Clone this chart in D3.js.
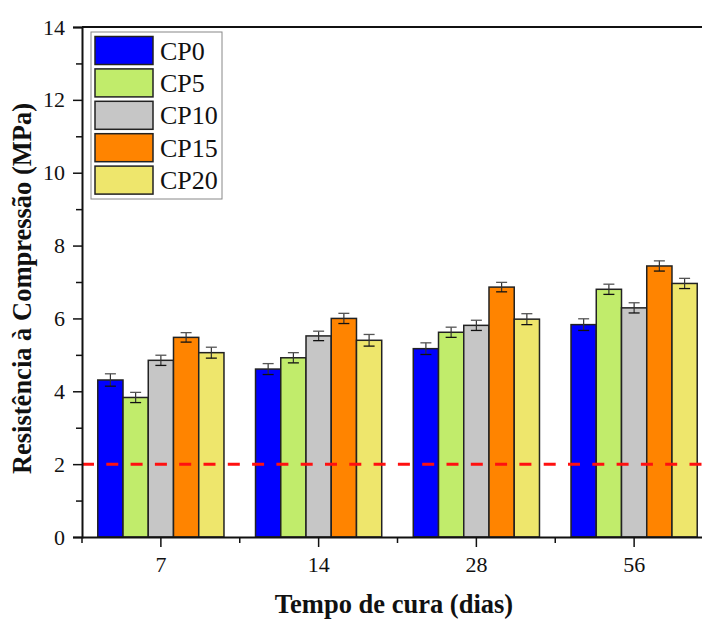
<!DOCTYPE html>
<html>
<head>
<meta charset="utf-8">
<script src="https://cdn.jsdelivr.net/npm/d3@7"></script>
<style>
  html, body { margin: 0; padding: 0; background: #fff; }
  svg { display: block; }
  text { font-family: "Liberation Serif", "Times New Roman", serif; fill: #111; }
</style>
</head>
<body>
<svg id="chart" width="702" height="619"></svg>
<script>
// Curing time (days) on the x axis
const curingDays = ["7", "14", "28", "56"];
// Mix series
const mixes = ["CP0", "CP5", "CP10", "CP15", "CP20"];
const mixColors = ["#0000ff", "#c1ec6b", "#c6c6c6", "#ff8400", "#eee66c"];
// Compressive strength (MPa) per mix, one value per curing time
const cp0 = [4.31, 4.61, 5.17, 5.83];
const cp5 = [3.83, 4.92, 5.62, 6.80];
const cp10 = [4.85, 5.52, 5.81, 6.29];
const cp15 = [5.48, 6.00, 6.86, 7.44];
const cp20 = [5.06, 5.40, 5.98, 6.96];
// Standard deviations
const cp0Err = [0.17, 0.15, 0.16, 0.16];
const cp5Err = [0.14, 0.14, 0.14, 0.14];
const cp10Err = [0.14, 0.13, 0.14, 0.14];
const cp15Err = [0.13, 0.14, 0.13, 0.14];
const cp20Err = [0.15, 0.16, 0.15, 0.14];
// Minimum required strength (reference line)
const minStrength = 2;
const yTicks = [0, 2, 4, 6, 8, 10, 12, 14];
const yMinorTicks = [1, 3, 5, 7, 9, 11, 13];

const seriesValues = [cp0, cp5, cp10, cp15, cp20];
const seriesErrors = [cp0Err, cp5Err, cp10Err, cp15Err, cp20Err];

const svg = d3.select("#chart");
const plotLeft = 82, plotRight = 713, plotTop = 27, plotBottom = 537;

const x0 = d3.scaleBand().domain(curingDays).range([plotLeft, plotRight]).paddingInner(0).paddingOuter(0);
const x1 = d3.scaleBand().domain(mixes).range([0, x0.bandwidth()]).paddingInner(0).paddingOuter(0.625);
const y = d3.scaleLinear().domain([0, 14]).range([plotBottom, plotTop]);
const color = d3.scaleOrdinal().domain(mixes).range(mixColors);

const rows = [];
mixes.forEach((m, i) => {
  curingDays.forEach((d, j) => {
    rows.push({ mix: m, day: d, value: seriesValues[i][j], err: seriesErrors[i][j] });
  });
});

// Bars
const g = svg.append("g");
g.selectAll("rect.bar").data(rows).join("rect")
  .attr("class", "bar")
  .attr("x", d => x0(d.day) + x1(d.mix))
  .attr("y", d => y(d.value))
  .attr("width", x1.bandwidth())
  .attr("height", d => y(0) - y(d.value))
  .attr("fill", d => color(d.mix))
  .attr("stroke", "#222")
  .attr("stroke-width", 1.5);

// Error bars
const capHalf = 5.5;
const eb = g.selectAll("g.err").data(rows).join("g").attr("class", "err")
  .attr("transform", d => `translate(${x0(d.day) + x1(d.mix) + x1.bandwidth() / 2},0)`);
eb.append("line")
  .attr("y1", d => y(d.value + d.err)).attr("y2", d => y(d.value - d.err))
  .attr("stroke", "#333").attr("stroke-width", 1.2);
eb.append("line")
  .attr("x1", -capHalf).attr("x2", capHalf)
  .attr("y1", d => y(d.value + d.err)).attr("y2", d => y(d.value + d.err))
  .attr("stroke", "#555").attr("stroke-width", 1.3);
eb.append("line")
  .attr("x1", -capHalf).attr("x2", capHalf)
  .attr("y1", d => y(d.value - d.err)).attr("y2", d => y(d.value - d.err))
  .attr("stroke", "#111").attr("stroke-width", 1.3);

// Reference line
svg.append("line")
  .attr("x1", plotLeft).attr("x2", plotRight)
  .attr("y1", y(minStrength)).attr("y2", y(minStrength))
  .attr("stroke", "#ff1010").attr("stroke-width", 3)
  .attr("stroke-dasharray", "12,12.3");

// Y axis
const yAxis = svg.append("g").attr("transform", `translate(${plotLeft},0)`)
  .call(d3.axisLeft(y).tickValues(yTicks).tickSize(9).tickPadding(8).tickFormat(d3.format("d")));
yAxis.select(".domain").attr("stroke", "#111").attr("stroke-width", 2);
yAxis.selectAll(".tick line").attr("stroke", "#111").attr("stroke-width", 1.5);
yAxis.selectAll("text").style("font-size", "22px").style("font-family", "Liberation Serif").attr("fill", "#222");
svg.append("g").attr("transform", `translate(${plotLeft},0)`)
  .call(d3.axisLeft(y).tickValues(yMinorTicks).tickSize(6).tickFormat(""))
  .call(s => s.select(".domain").remove())
  .selectAll(".tick line").attr("stroke", "#111").attr("stroke-width", 1.5);

// X axis
const xAxis = svg.append("g").attr("transform", `translate(0,${plotBottom})`)
  .call(d3.axisBottom(x0).tickSize(10).tickPadding(9).tickSizeOuter(0));
xAxis.select(".domain").attr("stroke", "#111").attr("stroke-width", 2);
xAxis.selectAll(".tick line").attr("stroke", "#111").attr("stroke-width", 1.5);
xAxis.selectAll("text").style("font-size", "22px").style("font-family", "Liberation Serif").attr("fill", "#222");
const minorX = curingDays.map(d => x0(d)).concat([plotRight]);
svg.append("g").selectAll("line").data(minorX).join("line")
  .attr("x1", d => d).attr("x2", d => d)
  .attr("y1", plotBottom).attr("y2", plotBottom + 6)
  .attr("stroke", "#111").attr("stroke-width", 1.5);

// Top frame line
svg.append("line").attr("x1", plotLeft).attr("x2", plotRight).attr("y1", plotTop).attr("y2", plotTop)
  .attr("stroke", "#111").attr("stroke-width", 2);

// Axis titles
svg.append("text")
  .attr("x", 394).attr("y", 613)
  .attr("text-anchor", "middle")
  .style("font-size", "26.5px").style("font-weight", "bold")
  .text("Tempo de cura (dias)");
svg.append("text")
  .attr("transform", `translate(31,288.5) rotate(-90)`)
  .attr("text-anchor", "middle")
  .style("font-size", "26.5px").style("font-weight", "bold")
  .text("Resistência à Compressão (MPa)");

// Legend
const legend = svg.append("g");
legend.append("rect").attr("x", 91).attr("y", 32).attr("width", 131).attr("height", 167)
  .attr("fill", "#fff").attr("stroke", "#888").attr("stroke-width", 1);
const li = legend.selectAll("g.item").data(mixes).join("g").attr("class", "item")
  .attr("transform", (d, i) => `translate(95,${36.5 + i * 32.4})`);
li.append("rect").attr("width", 58).attr("height", 28)
  .attr("fill", d => color(d)).attr("stroke", "#222").attr("stroke-width", 1.5);
li.append("text").attr("x", 65).attr("y", 23)
  .style("font-size", "26px").text(d => d);
</script>
</body>
</html>
